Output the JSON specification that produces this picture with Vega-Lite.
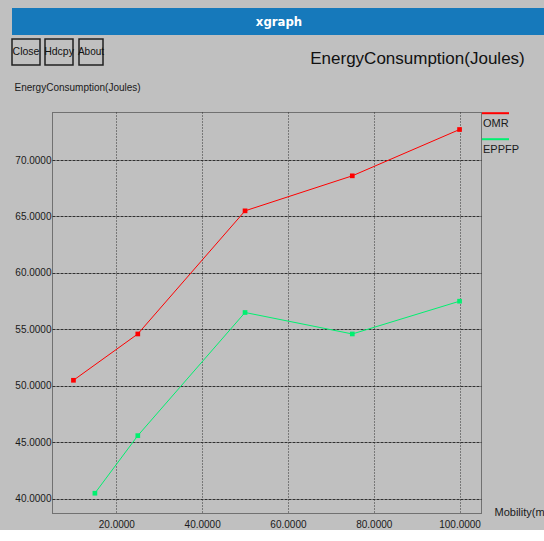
{
  "$schema": "https://vega.github.io/schema/vega-lite/v6.json",
  "background": "#c0c0c0",
  "padding": {"left": 11, "top": 8, "right": 0, "bottom": 0},
  "spacing": 3,
  "config": {
    "font": "Liberation Sans, Arial, sans-serif",
    "view": {"stroke": null},
    "text": {"font": "Liberation Sans, Arial, sans-serif"}
  },
  "vconcat": [
    {
      "width": 534,
      "height": 27,
      "view": {"fill": "#1679bb", "stroke": null},
      "data": {"values": [{"t": "xgraph"}]},
      "mark": {"type": "text", "color": "#ffffff", "fontWeight": "bold", "fontSize": 13, "font": "DejaVu Sans Condensed"},
      "encoding": {"text": {"field": "t"}}
    },
    {
      "spacing": 2,
      "hconcat": [
        {
          "width": 28, "height": 26,
          "view": {"stroke": "#202020", "strokeWidth": 1.5, "fill": null},
          "data": {"values": [{"t": "Close"}]},
          "mark": {"type": "text", "fontSize": 10.5, "color": "#111111"},
          "encoding": {"text": {"field": "t"}}
        },
        {
          "width": 28, "height": 26,
          "view": {"stroke": "#202020", "strokeWidth": 1.5, "fill": null},
          "data": {"values": [{"t": "Hdcpy"}]},
          "mark": {"type": "text", "fontSize": 10.5, "color": "#111111"},
          "encoding": {"text": {"field": "t"}}
        },
        {
          "width": 24, "height": 26,
          "view": {"stroke": "#202020", "strokeWidth": 1.5, "fill": null},
          "data": {"values": [{"t": "About"}]},
          "mark": {"type": "text", "fontSize": 10, "color": "#111111"},
          "encoding": {"text": {"field": "t"}}
        },
        {
          "width": 181, "height": 26,
          "data": {"values": [{"t": ""}]},
          "mark": {"type": "text"},
          "encoding": {"text": {"field": "t"}}
        },
        {
          "width": 255, "height": 39,
          "data": {"values": [{"t": "EnergyConsumption(Joules)"}]},
          "mark": {"type": "text", "fontSize": 17, "color": "#111111", "baseline": "middle"},
          "encoding": {"text": {"field": "t"}}
        }
      ]
    },
    {
      "spacing": 0,
      "hconcat": [
        {
          "width": 1, "height": 401,
          "data": {"values": [{"t": ""}]},
          "mark": {"type": "text"},
          "encoding": {"text": {"field": "t"}}
        },
        {
          "width": 429,
          "height": 401,
          "view": {"stroke": "#222222", "strokeDash": [1, 1], "fill": null},
          "data": {
            "values": [
              {"protocol": "OMR", "mobility": 10, "energy": 50.5},
              {"protocol": "OMR", "mobility": 25, "energy": 54.6},
              {"protocol": "OMR", "mobility": 50, "energy": 65.5},
              {"protocol": "OMR", "mobility": 75, "energy": 68.6},
              {"protocol": "OMR", "mobility": 100, "energy": 72.7},
              {"protocol": "EPPFP", "mobility": 15, "energy": 40.5},
              {"protocol": "EPPFP", "mobility": 25, "energy": 45.6},
              {"protocol": "EPPFP", "mobility": 50, "energy": 56.5},
              {"protocol": "EPPFP", "mobility": 75, "energy": 54.6},
              {"protocol": "EPPFP", "mobility": 100, "energy": 57.5}
            ]
          },
          "encoding": {
            "x": {
              "field": "mobility", "type": "quantitative",
              "scale": {"domain": [5, 105], "nice": false, "zero": false},
              "axis": {
                "values": [20, 40, 60, 80, 100], "format": ".4f",
                "grid": true, "gridColor": "#303030", "gridDash": [1, 2], "gridOpacity": 1,
                "ticks": false, "domain": false,
                "labelFontSize": 10, "labelColor": "#1a1a1a", "labelPadding": 6,
                "title": "Mobility(ms)", "titleX": 442, "titleY": -1,
                "titleAlign": "left", "titleBaseline": "middle", "titleAnchor": null,
                "titleFontWeight": "normal", "titleFontSize": 11, "titleColor": "#1a1a1a"
              }
            },
            "y": {
              "field": "energy", "type": "quantitative",
              "scale": {"domain": [38.75, 74.25], "nice": false, "zero": false},
              "axis": {
                "values": [40, 45, 50, 55, 60, 65, 70], "format": ".4f",
                "grid": true, "gridColor": "#303030", "gridDash": [3, 1], "gridOpacity": 1,
                "ticks": false, "domain": false,
                "labelFontSize": 10, "labelColor": "#1a1a1a", "labelPadding": 1,
                "title": "EnergyConsumption(Joules)", "titleAngle": 0,
                "titleX": -38, "titleY": -25, "titleAlign": "left", "titleBaseline": "middle",
                "titleAnchor": null,
                "titleFontWeight": "normal", "titleFontSize": 10, "titleColor": "#1a1a1a"
              }
            },
            "color": {
              "field": "protocol", "type": "nominal",
              "scale": {"domain": ["OMR", "EPPFP"], "range": ["#ff0000", "#00f070"]},
              "legend": {
                "orient": "none", "legendX": 469, "legendY": 101.5,
                "title": null, "padding": 0, "rowPadding": 5,
                "symbolType": "M-1,-0.8L1,-0.8", "symbolSize": 729, "symbolStrokeWidth": 2,
                "labelBaseline": "middle", "labelOffset": -27,
                "labelFontSize": 11, "labelColor": "#1a1a1a"
              }
            }
          },
          "layer": [
            {"mark": {"type": "line", "strokeWidth": 1}},
            {"mark": {"type": "point", "shape": "square", "filled": true, "size": 22, "opacity": 1}}
          ]
        }
      ]
    }
  ]
}
